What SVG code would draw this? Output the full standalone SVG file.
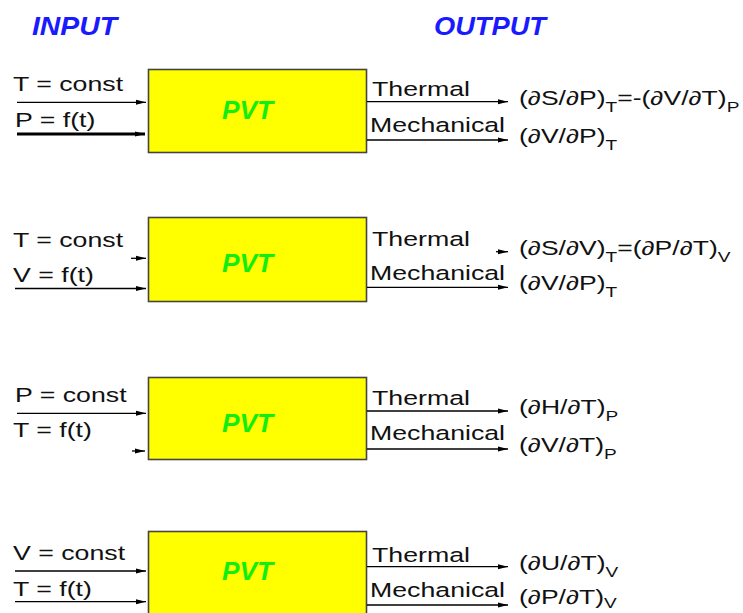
<svg xmlns="http://www.w3.org/2000/svg" width="743" height="613" viewBox="0 0 743 613">
<defs>
<marker id="ah" markerUnits="userSpaceOnUse" markerWidth="10" markerHeight="7" refX="10" refY="3.5" orient="auto"><path d="M0,1 L10,3.5 L0,6 z" fill="#000"/></marker>
</defs>
<style>
.box{fill:#ffff00;stroke:#444;stroke-width:1.6}
.pvt{font-family:"Liberation Sans",Arial,sans-serif;font-weight:bold;font-style:italic;font-size:26px;fill:#11ee11}
.t{font-family:"Liberation Sans",Arial,sans-serif;font-size:19.5px;fill:#111}
.s{font-size:14px}
.title{font-family:"Liberation Sans",Arial,sans-serif;font-weight:bold;font-style:italic;font-size:25px;fill:#1a1aff}
.ln{stroke:#000;stroke-width:1.3;fill:none;marker-end:url(#ah)}
.thick{stroke-width:2.8}
</style>
<rect width="743" height="613" fill="#fff"/>
<text class="title" x="32" y="35" textLength="85" lengthAdjust="spacingAndGlyphs">INPUT</text>
<text class="title" x="434" y="35" textLength="112" lengthAdjust="spacingAndGlyphs">OUTPUT</text>

<g id="node1">
<rect class="box" x="148.5" y="69.5" width="218" height="83"/>
<text class="pvt" x="222" y="118.5" textLength="51" lengthAdjust="spacingAndGlyphs">PVT</text>
</g>
<g id="node2">
<rect class="box" x="148.5" y="217.5" width="218" height="84"/>
<text class="pvt" x="222" y="271.5" textLength="51" lengthAdjust="spacingAndGlyphs">PVT</text>
</g>
<g id="node3">
<rect class="box" x="148.5" y="377.5" width="218" height="82"/>
<text class="pvt" x="222" y="431.5" textLength="51" lengthAdjust="spacingAndGlyphs">PVT</text>
</g>
<g id="node4">
<rect class="box" x="148.5" y="531.5" width="218" height="95"/>
<text class="pvt" x="222" y="580" textLength="51" lengthAdjust="spacingAndGlyphs">PVT</text>
</g>

<g id="connectors">
<line class="ln" x1="17" y1="102.3" x2="146" y2="102.3"/>
<line class="ln thick" x1="17" y1="134" x2="145" y2="134"/>
<line class="ln" x1="367" y1="101.7" x2="508" y2="101.7"/>
<line class="ln" x1="367" y1="140" x2="508" y2="140"/>

<line class="ln" x1="131" y1="258.3" x2="146" y2="258.3"/>
<line class="ln" x1="15" y1="288.5" x2="146" y2="288.5"/>
<line class="ln" x1="496" y1="251.7" x2="508" y2="251.7"/>
<line class="ln" x1="367" y1="287.3" x2="508" y2="287.3"/>

<line class="ln" x1="17" y1="413.3" x2="146" y2="413.3"/>
<line class="ln" x1="132" y1="451" x2="145" y2="451"/>
<line class="ln" x1="367" y1="411" x2="508" y2="411"/>
<line class="ln" x1="367" y1="449" x2="508" y2="449"/>

<line class="ln" x1="15" y1="571" x2="146" y2="571"/>
<line class="ln" x1="15" y1="601.7" x2="146" y2="601.7"/>
<line class="ln" x1="367" y1="566.7" x2="508" y2="566.7"/>
<line class="ln" x1="367" y1="605" x2="508" y2="605"/>
</g>

<g id="labels">
<text class="t" transform="translate(13,90.5) scale(1.37,1)">T = const</text>
<text class="t" transform="translate(15,126.5) scale(1.37,1)">P = f(t)</text>
<text class="t" transform="translate(372,96) scale(1.37,1)">Thermal</text>
<text class="t" transform="translate(370,131.5) scale(1.37,1)">Mechanical</text>
<text class="t" transform="translate(519,104.7) scale(1.36,1)">(∂S/∂P)<tspan class="s" dy="7">T</tspan><tspan dy="-7">=-(∂V/∂T)</tspan><tspan class="s" dy="7">P</tspan></text>
<text class="t" transform="translate(519,143) scale(1.36,1)">(∂V/∂P)<tspan class="s" dy="7">T</tspan></text>

<text class="t" transform="translate(13,247) scale(1.37,1)">T = const</text>
<text class="t" transform="translate(13,282) scale(1.37,1)">V = f(t)</text>
<text class="t" transform="translate(372,246) scale(1.37,1)">Thermal</text>
<text class="t" transform="translate(370,280) scale(1.37,1)">Mechanical</text>
<text class="t" transform="translate(519,254.7) scale(1.36,1)">(∂S/∂V)<tspan class="s" dy="7">T</tspan><tspan dy="-7">=(∂P/∂T)</tspan><tspan class="s" dy="7">V</tspan></text>
<text class="t" transform="translate(519,290.3) scale(1.36,1)">(∂V/∂P)<tspan class="s" dy="7">T</tspan></text>

<text class="t" transform="translate(15,401.5) scale(1.37,1)">P = const</text>
<text class="t" transform="translate(13,437) scale(1.37,1)">T = f(t)</text>
<text class="t" transform="translate(372,405) scale(1.37,1)">Thermal</text>
<text class="t" transform="translate(370,440) scale(1.37,1)">Mechanical</text>
<text class="t" transform="translate(519,414) scale(1.36,1)">(∂H/∂T)<tspan class="s" dy="7">P</tspan></text>
<text class="t" transform="translate(519,452) scale(1.36,1)">(∂V/∂T)<tspan class="s" dy="7">P</tspan></text>

<text class="t" transform="translate(13,559.5) scale(1.37,1)">V = const</text>
<text class="t" transform="translate(13,596) scale(1.37,1)">T = f(t)</text>
<text class="t" transform="translate(372,561.5) scale(1.37,1)">Thermal</text>
<text class="t" transform="translate(370,596.5) scale(1.37,1)">Mechanical</text>
<text class="t" transform="translate(519,569.7) scale(1.36,1)">(∂U/∂T)<tspan class="s" dy="7">V</tspan></text>
<text class="t" transform="translate(519,604) scale(1.36,1)">(∂P/∂T)<tspan class="s" dy="4">V</tspan></text>
</g>
</svg>
